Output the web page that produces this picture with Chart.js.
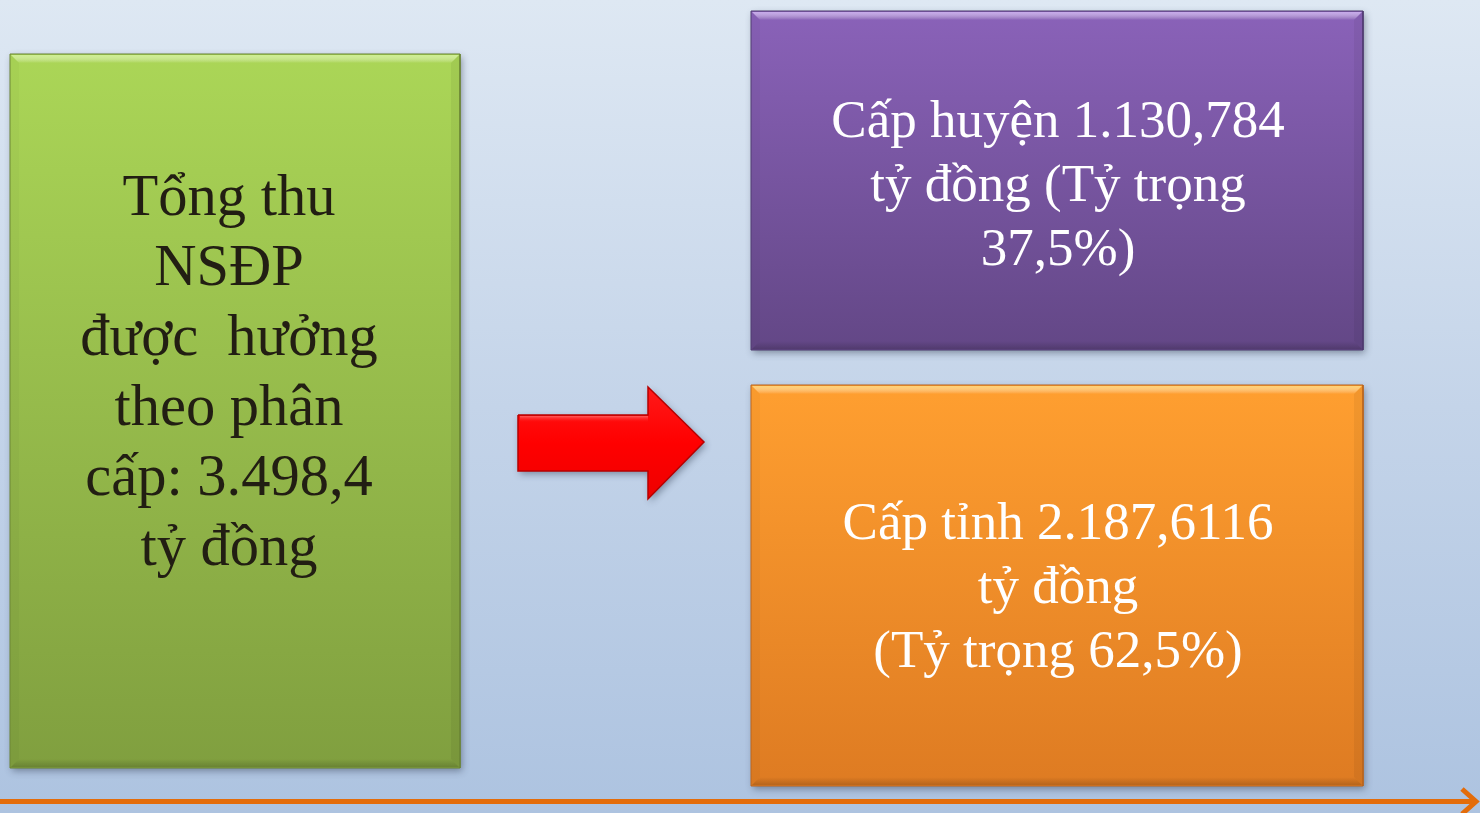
<!DOCTYPE html>
<html>
<head>
<meta charset="utf-8">
<script src="https://cdn.jsdelivr.net/npm/chart.js@4/dist/chart.umd.min.js"></script>
<style>
  html, body { margin: 0; padding: 0; overflow: hidden; }
  #wrap { width: 1480px; height: 813px; position: relative; }
</style>
</head>
<body>
<div id="wrap"><canvas id="chart"></canvas></div>
<script>
// boxes, in slide units (x 0..1480, y 0..813 from the top)
var boxLeft = [10, 751, 751];
var boxRight = [460, 1363, 1363];
var boxTop = [54, 11, 385];
var boxBottom = [768, 350, 786];
var boxText = [
  ['Tổng thu', 'NSĐP', 'được  hưởng', 'theo phân', 'cấp: 3.498,4', 'tỷ đồng'],
  ['Cấp huyện 1.130,784', 'tỷ đồng (Tỷ trọng', '37,5%)'],
  ['Cấp tỉnh 2.187,6116', 'tỷ đồng', '(Tỷ trọng 62,5%)']
];

// red block arrow outline
var arrowX = [518, 648, 648, 704, 648, 648, 518, 518];
var arrowY = [415, 415, 387, 442, 499, 471, 471, 415];

// orange time line along the bottom and its arrow head
var baseLineX = [0, 1476];
var baseLineY = [801.5, 801.5];
var headX = [1462, 1476, 1462];
var headY = [789, 801.5, 814];

var boxStyle = [
  { top: '#abd657', bottom: '#809f3f', edge: '#6a8434', light: '#cdf08a', text: '#221e13', size: 58.5, lineH: 70, shift: -21, dx: -6 },
  { top: '#8a62b9', bottom: '#634786', edge: '#4f3a6e', light: '#c8a8f0', text: '#ffffff', size: 53, lineH: 64, shift: 20, dx: 1 },
  { top: '#ff9f30', bottom: '#de7b22', edge: '#b9651c', light: '#ffd36a', text: '#ffffff', size: 53, lineH: 64, shift: 17, dx: 1 }
];

function pts(xs, ys) {
  return xs.map(function (x, i) { return { x: x, y: ys[i] }; });
}

function boxGradient(i) {
  return function (c) {
    var chart = c.chart;
    if (!chart.chartArea) {
      return boxStyle[i].top;
    }
    var ys = chart.scales.y;
    var g = chart.ctx.createLinearGradient(0, ys.getPixelForValue(boxTop[i]), 0, ys.getPixelForValue(boxBottom[i]));
    g.addColorStop(0, boxStyle[i].top);
    g.addColorStop(1, boxStyle[i].bottom);
    return g;
  };
}

var datasets = [];
boxLeft.forEach(function (l, i) {
  var r = boxRight[i], t = boxTop[i], b = boxBottom[i];
  datasets.push({
    data: pts([l, r, r, l, l], [t, t, b, b, t]),
    showLine: true,
    fill: 'shape',
    backgroundColor: boxGradient(i),
    borderColor: boxStyle[i].edge,
    borderWidth: 1,
    pointRadius: 0,
    tension: 0,
    clip: false
  });
});

datasets.push({
  data: pts(arrowX, arrowY),
  showLine: true,
  fill: 'shape',
  backgroundColor: function (c) {
    var chart = c.chart;
    if (!chart.chartArea) {
      return '#ff0000';
    }
    var ys = chart.scales.y;
    var g = chart.ctx.createLinearGradient(0, ys.getPixelForValue(387), 0, ys.getPixelForValue(499));
    g.addColorStop(0, '#ff1a1a');
    g.addColorStop(0.5, '#ff0000');
    g.addColorStop(1, '#ee0000');
    return g;
  },
  borderColor: '#b80000',
  borderWidth: 1.5,
  pointRadius: 0,
  tension: 0,
  clip: false
});

datasets.push({
  data: pts(baseLineX, baseLineY),
  showLine: true,
  fill: false,
  borderColor: '#e36c0a',
  borderWidth: 5,
  pointRadius: 0,
  clip: false
});

datasets.push({
  data: pts(headX, headY),
  showLine: true,
  fill: false,
  borderColor: '#e36c0a',
  borderWidth: 5,
  borderJoinStyle: 'miter',
  pointRadius: 0,
  clip: false
});

var background = {
  id: 'background',
  beforeDraw: function (chart) {
    var ctx = chart.ctx;
    var g = ctx.createLinearGradient(0, 0, 0, chart.height);
    g.addColorStop(0, '#dee8f3');
    g.addColorStop(0.5, '#c4d4e9');
    g.addColorStop(1, '#adc3e0');
    ctx.save();
    ctx.fillStyle = g;
    ctx.fillRect(0, 0, chart.width, chart.height);
    ctx.restore();
  },
  beforeDatasetsDraw: function (chart) {
    var ctx = chart.ctx, xs = chart.scales.x, ys = chart.scales.y;
    ctx.save();
    ctx.shadowColor = 'rgba(40, 50, 70, 0.45)';
    ctx.shadowBlur = 7;
    ctx.shadowOffsetX = 2;
    ctx.shadowOffsetY = 3;
    ctx.fillStyle = '#8898b0';
    boxLeft.forEach(function (l, i) {
      var x0 = xs.getPixelForValue(l), x1 = xs.getPixelForValue(boxRight[i]);
      var y0 = ys.getPixelForValue(boxTop[i]), y1 = ys.getPixelForValue(boxBottom[i]);
      ctx.fillRect(x0, y0, x1 - x0, y1 - y0);
    });
    ctx.beginPath();
    arrowX.forEach(function (x, i) {
      var px = xs.getPixelForValue(x), py = ys.getPixelForValue(arrowY[i]);
      if (i === 0) ctx.moveTo(px, py); else ctx.lineTo(px, py);
    });
    ctx.fill();
    ctx.restore();
  },
  afterDatasetsDraw: function (chart) {
    var ctx = chart.ctx, xs = chart.scales.x, ys = chart.scales.y;
    var bev = 9;
    boxLeft.forEach(function (l, i) {
      var st = boxStyle[i];
      var x0 = xs.getPixelForValue(l), x1 = xs.getPixelForValue(boxRight[i]);
      var y0 = ys.getPixelForValue(boxTop[i]), y1 = ys.getPixelForValue(boxBottom[i]);
      ctx.save();
      // top bevel, light
      var g = ctx.createLinearGradient(0, y0, 0, y0 + bev);
      g.addColorStop(0, st.light);
      g.addColorStop(1, 'rgba(255,255,255,0)');
      ctx.fillStyle = g;
      ctx.beginPath();
      ctx.moveTo(x0 + 1, y0 + 1);
      ctx.lineTo(x1 - 1, y0 + 1);
      ctx.lineTo(x1 - bev, y0 + bev);
      ctx.lineTo(x0 + bev, y0 + bev);
      ctx.closePath();
      ctx.fill();
      // bottom bevel, dark
      g = ctx.createLinearGradient(0, y1 - bev, 0, y1);
      g.addColorStop(0, 'rgba(0,0,0,0)');
      g.addColorStop(1, 'rgba(0,0,0,0.2)');
      ctx.fillStyle = g;
      ctx.beginPath();
      ctx.moveTo(x0 + 1, y1 - 1);
      ctx.lineTo(x1 - 1, y1 - 1);
      ctx.lineTo(x1 - bev, y1 - bev);
      ctx.lineTo(x0 + bev, y1 - bev);
      ctx.closePath();
      ctx.fill();
      // side bevels, faint
      ctx.fillStyle = 'rgba(0,0,0,0.025)';
      ctx.beginPath();
      ctx.moveTo(x0 + 1, y0 + 1);
      ctx.lineTo(x0 + bev, y0 + bev);
      ctx.lineTo(x0 + bev, y1 - bev);
      ctx.lineTo(x0 + 1, y1 - 1);
      ctx.closePath();
      ctx.fill();
      ctx.fillStyle = 'rgba(0,0,0,0.05)';
      ctx.beginPath();
      ctx.moveTo(x1 - 1, y0 + 1);
      ctx.lineTo(x1 - bev, y0 + bev);
      ctx.lineTo(x1 - bev, y1 - bev);
      ctx.lineTo(x1 - 1, y1 - 1);
      ctx.closePath();
      ctx.fill();

      // text
      var lines = boxText[i];
      var cx = (x0 + x1) / 2 + st.dx;
      var cy = (y0 + y1) / 2 + st.shift;
      ctx.fillStyle = st.text;
      ctx.font = st.size + 'px "Liberation Serif", "Times New Roman", serif';
      ctx.textAlign = 'center';
      ctx.textBaseline = 'alphabetic';
      lines.forEach(function (line, k) {
        var y = cy + (k - (lines.length - 1) / 2) * st.lineH;
        ctx.fillText(line, cx, y);
      });
      ctx.restore();
    });
    // highlight on the arrow body
    var ax0 = xs.getPixelForValue(arrowX[0]), ax1 = xs.getPixelForValue(arrowX[1]);
    var ay0 = ys.getPixelForValue(arrowY[0]);
    ctx.save();
    var h = ctx.createLinearGradient(0, ay0, 0, ay0 + 8);
    h.addColorStop(0, 'rgba(255,140,140,0.8)');
    h.addColorStop(1, 'rgba(255,0,0,0)');
    ctx.fillStyle = h;
    ctx.fillRect(ax0 + 2, ay0 + 1, ax1 - ax0 - 2, 8);
    ctx.restore();
  }
};

new Chart(document.getElementById('chart'), {
  type: 'scatter',
  data: { datasets: datasets },
  options: {
    responsive: true,
    maintainAspectRatio: false,
    animation: false,
    layout: { padding: 0 },
    plugins: {
      legend: { display: false },
      tooltip: { enabled: false }
    },
    scales: {
      x: { type: 'linear', min: 0, max: 1480, display: false },
      y: { type: 'linear', min: 0, max: 813, reverse: true, display: false }
    }
  },
  plugins: [background]
});
</script>
</body>
</html>
